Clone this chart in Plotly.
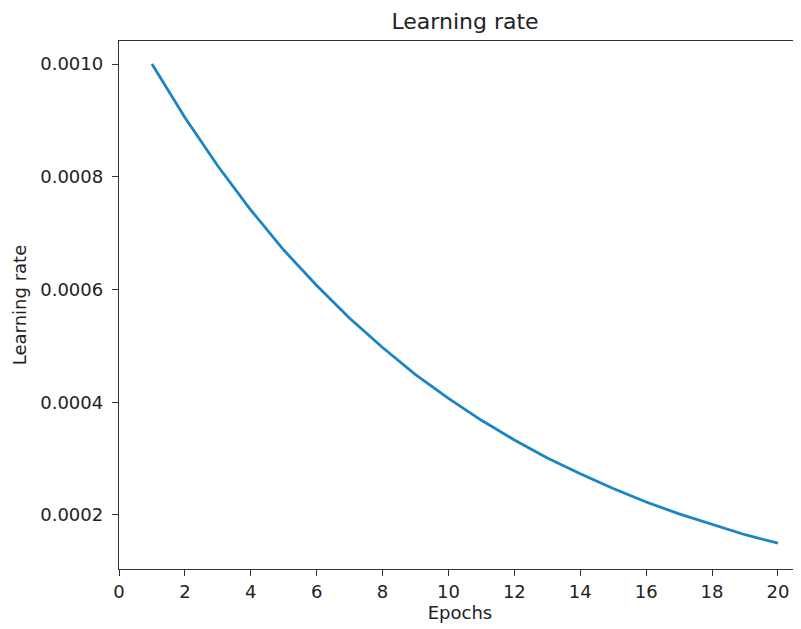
import plotly.graph_objects as go

epochs = list(range(1, 21))
learning_rate = [0.001, 0.000905, 0.000819, 0.000741, 0.000670, 0.000607,
                 0.000549, 0.000497, 0.000449, 0.000407, 0.000368, 0.000333,
                 0.000301, 0.000273, 0.000247, 0.000223, 0.000202, 0.000183,
                 0.000165, 0.000150]
x_ticks = [0, 2, 4, 6, 8, 10, 12, 14, 16, 18, 20]
y_ticks = [0.0002, 0.0004, 0.0006, 0.0008, 0.0010]
y_tick_text = ["0.0002", "0.0004", "0.0006", "0.0008", "0.0010"]

font = "DejaVu Sans"
# page body has an 8px margin, so the figure is sized to fill the rest of the window
W, H = 793, 621
fig = go.Figure()
fig.add_trace(go.Scatter(x=epochs, y=learning_rate, mode="lines",
                         line=dict(color="#1b84c4", width=2.8),
                         showlegend=False))

fig.update_layout(
    width=W, height=H,
    margin=dict(l=111, r=0, t=33, b=60, autoexpand=False),
    paper_bgcolor="white", plot_bgcolor="white",
    font=dict(family=font, color="#222", size=18),
    title=dict(text="Learning rate", x=457 / W, xanchor="center",
               y=1 - 13 / H, yanchor="middle",
               font=dict(family=font, size=22, color="#222")),
)
fig.update_xaxes(
    range=[0, 20.7], tickvals=x_ticks, ticktext=[str(v) for v in x_ticks],
    showgrid=False, zeroline=False, automargin=False,
    showline=True, linecolor="#333", linewidth=1.4, mirror=True,
    ticks="outside", ticklen=6, tickwidth=1.4, tickcolor="#333",
    tickfont=dict(family=font, size=18, color="#222"),
    title=dict(text="Epochs", standoff=4, font=dict(family=font, size=18, color="#222")),
)
fig.update_yaxes(
    range=[0.0001042, 0.0010408], tickvals=y_ticks, ticktext=y_tick_text,
    showgrid=False, zeroline=False, automargin=False,
    showline=True, linecolor="#333", linewidth=1.4, mirror=False,
    ticks="outside", ticklen=6, tickwidth=1.4, tickcolor="#333",
    ticklabelstandoff=5,
    tickfont=dict(family=font, size=18, color="#222"),
    title=dict(text="Learning rate", standoff=8, font=dict(family=font, size=18, color="#222")),
)
fig.write_html("out.html")
